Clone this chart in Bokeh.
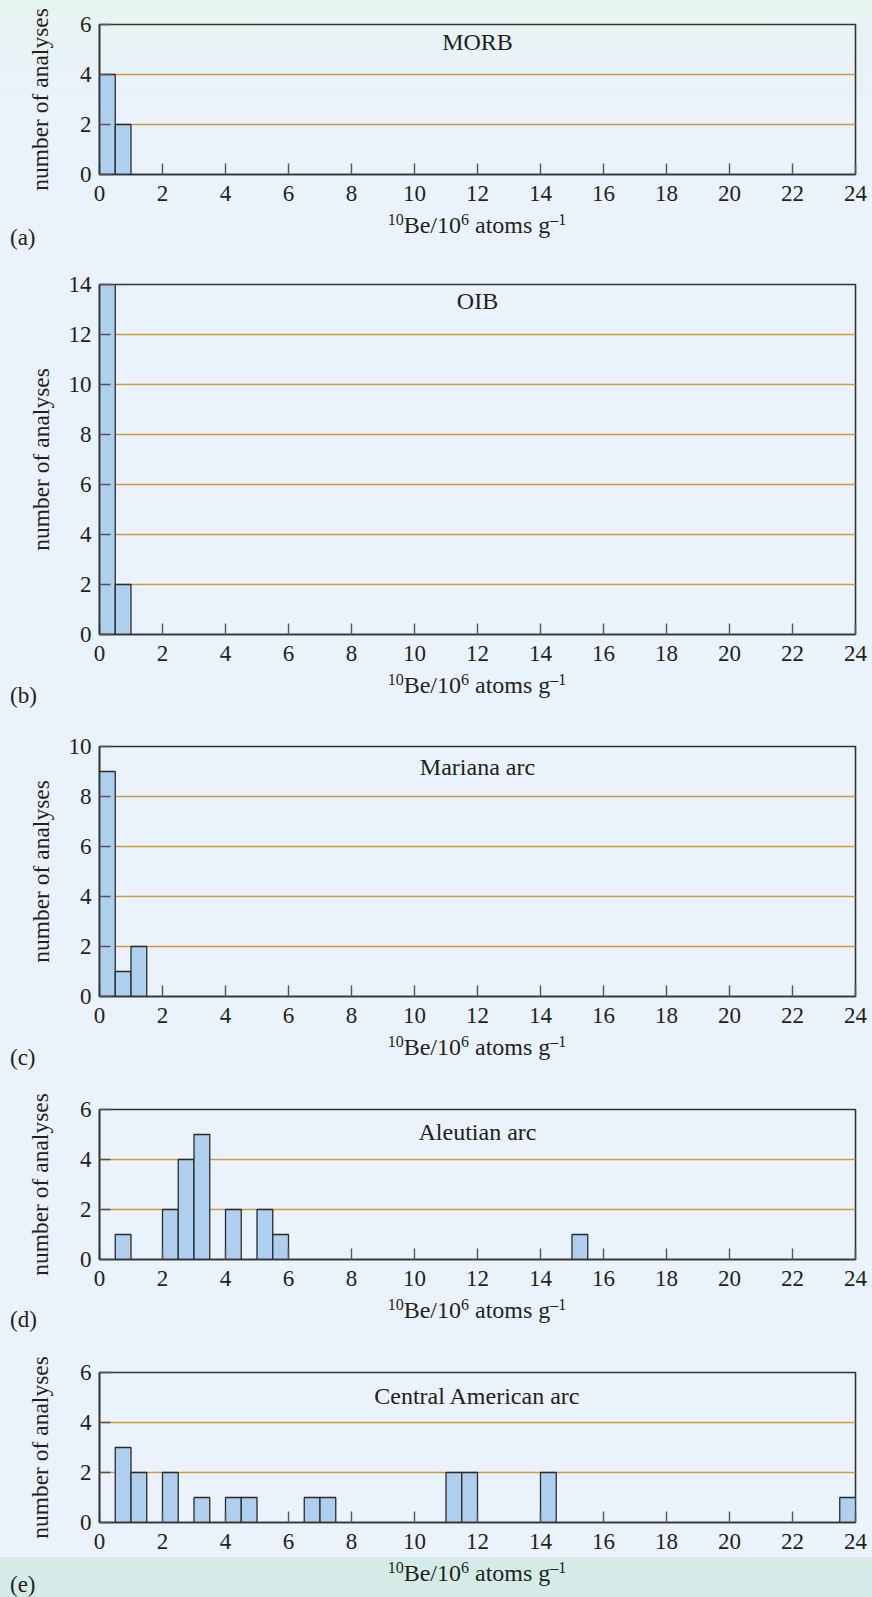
from bokeh.plotting import figure
from bokeh.layouts import column
from bokeh.models import Range1d, FixedTicker, Label, Div, GlobalInlineStyleSheet
from bokeh.embed import file_html
from bokeh.resources import INLINE

# ---------------- data ----------------
x_ticks = list(range(0, 25, 2))
bin_width = 0.5

panel_letters = ["(a)", "(b)", "(c)", "(d)", "(e)"]
panel_titles = ["MORB", "OIB", "Mariana arc", "Aleutian arc", "Central American arc"]
y_max = [6, 14, 10, 6, 6]

morb_bin_left = [0.0, 0.5]
morb_counts = [4, 2]

oib_bin_left = [0.0, 0.5]
oib_counts = [14, 2]

mariana_bin_left = [0.0, 0.5, 1.0]
mariana_counts = [9, 1, 2]

aleutian_bin_left = [0.5, 2.0, 2.5, 3.0, 4.0, 5.0, 5.5, 15.0]
aleutian_counts = [1, 2, 4, 5, 2, 2, 1, 1]

central_bin_left = [0.5, 1.0, 2.0, 3.0, 4.0, 4.5, 6.5, 7.0, 11.0, 11.5, 14.0, 23.5]
central_counts = [3, 2, 2, 1, 1, 1, 1, 1, 2, 2, 2, 1]

panel_data = [
    (morb_bin_left, morb_counts),
    (oib_bin_left, oib_counts),
    (mariana_bin_left, mariana_counts),
    (aleutian_bin_left, aleutian_counts),
    (central_bin_left, central_counts),
]

# ---------------- styling / layout ----------------
FONT = "Liberation Serif"
TEXT = "#231f20"
BAR_FILL = "#aecfee"
BAR_LINE = "#2b2b2b"
GRID = "#d09a45"
FRAME = "#333333"
BG_BLUE = "#eaf2fb"
BG_GREEN_TOP = "#e6f4f0"
BG_GREEN_BOT = "#d5ebe8"

PAGE_W = 872
FRAME_W = 756
PX_Y = 25.0
BORDER_LEFT = 99
BORDER_RIGHT = PAGE_W - BORDER_LEFT - FRAME_W
border_top = [24, 16, 16, 16, 16]
BORDER_BOTTOM = 44
div_height = [50, 52, 53, 53, 31]
title_offset = [17, 16, 20, 22, 23]        # px below frame top (text centre)
letter_offset = [65.5, 63.5, 63.5, 63, 65]  # px below frame bottom (text centre)
XTITLE_BASELINE = 59                        # px below frame bottom

gradient = (f"linear-gradient(to bottom, {BG_GREEN_TOP} 0px, {BG_BLUE} 110px, "
            f"{BG_BLUE} 1557px, {BG_GREEN_BOT} 1557px, {BG_GREEN_BOT} 100%)")
page_css = GlobalInlineStyleSheet(css=f"html{{background:{gradient};min-height:100%;}}")

SUP = "font-size:16px;line-height:0;position:relative;top:-8px;"


def below_div(i):
    h = div_height[i]
    title_top = XTITLE_BASELINE - BORDER_BOTTOM - 20
    letter_top = letter_offset[i] - BORDER_BOTTOM - 14
    html = (
        f'<div style="position:relative;width:{PAGE_W}px;height:{h}px;'
        f'font-family:\'{FONT}\',serif;color:{TEXT};">'
        f'<div style="position:absolute;left:{BORDER_LEFT}px;width:{FRAME_W}px;top:{title_top}px;'
        f'text-align:center;font-size:24px;line-height:24px;white-space:nowrap;">'
        f'<span style="{SUP}">10</span>Be/10<span style="{SUP}">6</span> atoms g'
        f'<span style="{SUP}">\u20131</span></div>'
        f'<div style="position:absolute;left:10px;top:{letter_top}px;font-size:23px;'
        f'line-height:23px;white-space:nowrap;">{panel_letters[i]}</div>'
        '</div>'
    )
    return Div(text=html, width=PAGE_W, height=h, margin=0,
               styles={"overflow": "visible"})


children = []
for i, (bin_left, counts) in enumerate(panel_data):
    ymax = y_max[i]
    p = figure(frame_width=FRAME_W, frame_height=int(ymax * PX_Y),
               x_range=Range1d(0, 24), y_range=Range1d(0, ymax),
               min_border_left=BORDER_LEFT, min_border_right=BORDER_RIGHT,
               min_border_top=border_top[i], min_border_bottom=BORDER_BOTTOM,
               toolbar_location=None, output_backend="svg",
               background_fill_color=None, border_fill_color=None)
    p.outline_line_color = FRAME
    p.outline_line_width = 1.6

    right = [b + bin_width for b in bin_left]
    p.quad(left=bin_left, right=right, bottom=0, top=counts,
           fill_color=BAR_FILL, line_color=BAR_LINE, line_width=1.3)

    # grid
    p.xgrid.visible = False
    p.ygrid.ticker = FixedTicker(ticks=list(range(2, ymax, 2)))
    p.ygrid.grid_line_color = GRID
    p.ygrid.grid_line_width = 1.6

    # axes
    p.xaxis.ticker = FixedTicker(ticks=x_ticks)
    p.yaxis.ticker = FixedTicker(ticks=list(range(0, ymax + 1, 2)))
    for ax in (p.xaxis[0], p.yaxis[0]):
        ax.major_tick_in = 11
        ax.major_tick_out = 0
        ax.minor_tick_in = 0
        ax.minor_tick_out = 0
        ax.axis_line_color = FRAME
        ax.axis_line_width = 1.6
        ax.major_tick_line_color = "#555555"
        ax.major_tick_line_width = 1.4
        ax.major_label_text_font = FONT
        ax.major_label_text_font_size = "23px"
        ax.major_label_text_color = TEXT
    p.xaxis.major_label_standoff = 11
    p.yaxis.major_label_standoff = 8
    p.yaxis.axis_label = "number of analyses"
    p.yaxis.axis_label_text_font = FONT
    p.yaxis.axis_label_text_font_size = "23.5px"
    p.yaxis.axis_label_text_font_style = "normal"
    p.yaxis.axis_label_text_color = TEXT
    p.yaxis.axis_label_standoff = 12 if len(str(ymax)) > 1 else 24

    # panel title inside the frame
    p.add_layout(Label(x=12, y=ymax - title_offset[i] / PX_Y, text=panel_titles[i],
                       text_align="center", text_baseline="middle",
                       text_font=FONT, text_font_size="24px", text_color=TEXT))
    children.append(p)
    children.append(below_div(i))

layout = column(*children, stylesheets=[page_css])

open("out.html", "w").write(file_html(layout, INLINE))
